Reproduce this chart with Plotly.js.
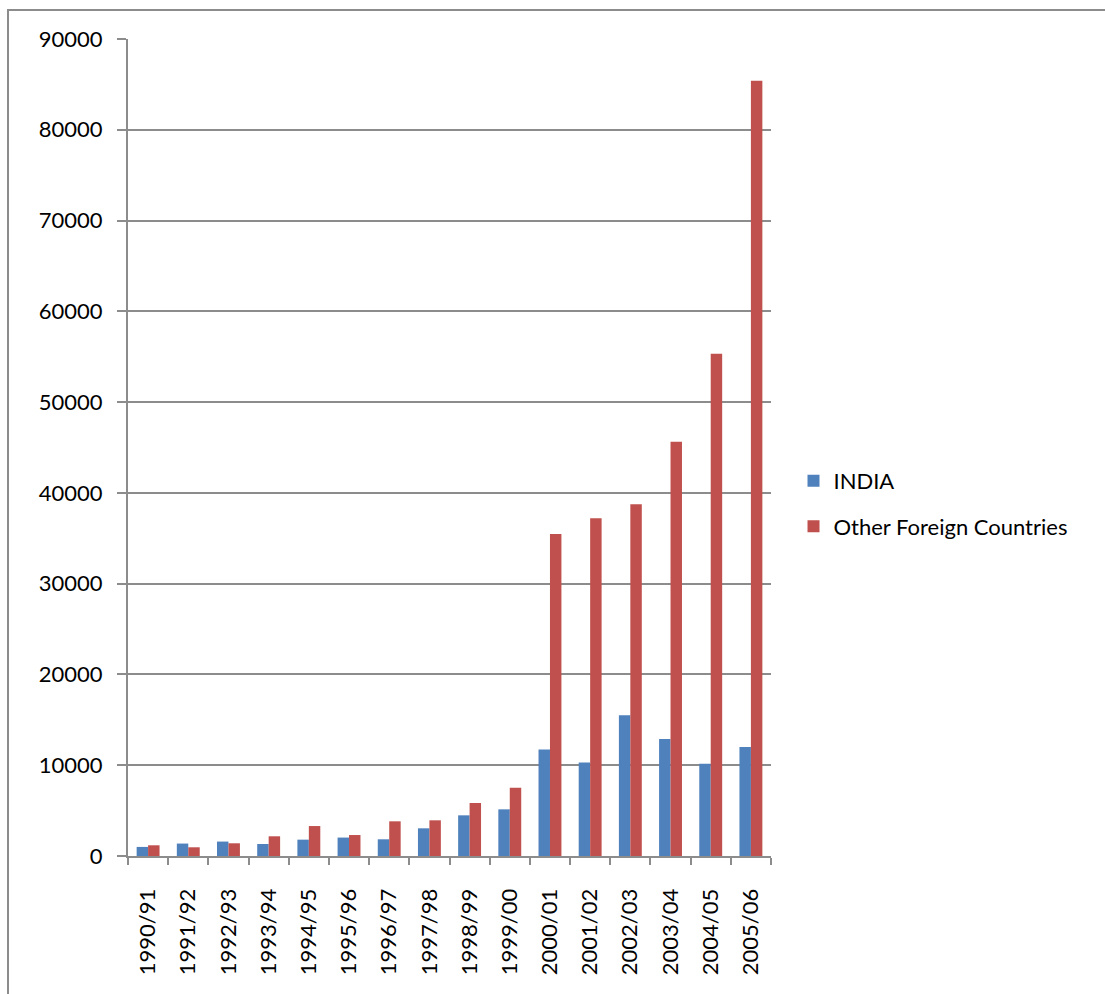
<!DOCTYPE html>
<html>
<head>
<meta charset="utf-8">
<script src="https://cdn.plot.ly/plotly-3.0.1.min.js"></script>
<style>
  html, body { margin: 0; padding: 0; background: #fff; }
  #wrap { position: relative; width: 1105px; height: 994px; overflow: hidden; }
  #frame { position: absolute; left: 7px; top: 9px; width: 1200px; height: 1100px;
           border-left: 2px solid #8c8c8c; border-top: 2px solid #8c8c8c; pointer-events: none; }
  #chart { position: absolute; left: 0; top: 0; width: 1105px; height: 994px; }
</style>
</head>
<body>
<div id="wrap">
  <div id="chart"></div>
  <div id="frame"></div>
</div>
<script>
const years = ["1990/91","1991/92","1992/93","1993/94","1994/95","1995/96","1996/97","1997/98",
               "1998/99","1999/00","2000/01","2001/02","2002/03","2003/04","2004/05","2005/06"];
const india = [1000, 1370, 1590, 1320, 1800, 2030, 1840, 3050, 4480, 5140, 11730, 10300, 15500, 12900, 10150, 12020];
const otherForeign = [1180, 960, 1400, 2170, 3300, 2310, 3820, 3930, 5840, 7530, 35480, 37210, 38760, 45620, 55330, 85400];
const seriesNames = ["INDIA", "Other Foreign Countries"];

const FONT = "Lato, 'Open Sans', sans-serif";

const traces = [
  { type: "bar", name: seriesNames[0], x: years, y: india, legendgroup: "g1",
    marker: { color: "#4F81BD", line: { width: 0 } } },
  { type: "bar", name: seriesNames[1], x: years, y: otherForeign, legendgroup: "g2",
    marker: { color: "#C0504D", line: { width: 0 } } }
];

const layout = {
  width: 1105, height: 994,
  margin: { l: 128, r: 334, t: 39, b: 138, pad: 0 },
  paper_bgcolor: "#ffffff", plot_bgcolor: "#ffffff",
  font: { family: FONT, size: 22, color: "#000" },
  barmode: "group",
  bargap: 0.43, bargroupgap: 0,
  showlegend: true,
  legend: { x: 1.035, y: 0.431, yanchor: "middle", xanchor: "left",
            font: { family: FONT, size: 22, color: "#000" },
            tracegroupgap: 14, itemwidth: 30 },
  xaxis: {
    type: "category",
    tickangle: -90,
    tickson: "boundaries",
    ticks: "outside", ticklen: 7, tickwidth: 2, tickcolor: "#8c8c8c",
    showline: true, linecolor: "#8c8c8c", linewidth: 2,
    showgrid: false, zeroline: false,
    ticklabelstandoff: 22,
    tickfont: { family: FONT, size: 22, color: "#000" }
  },
  yaxis: {
    range: [0, 90000], dtick: 10000, tick0: 0,
    ticks: "outside", ticklen: 9, tickwidth: 2, tickcolor: "#8c8c8c",
    showline: true, linecolor: "#8c8c8c", linewidth: 2,
    showgrid: true, gridcolor: "#8c8c8c", gridwidth: 2,
    zeroline: false,
    tickformat: "d",
    ticklabelstandoff: 10,
    tickfont: { family: FONT, size: 22, color: "#000" }
  }
};

Plotly.newPlot("chart", traces, layout, { displayModeBar: false, staticPlot: true });
</script>
</body>
</html>
